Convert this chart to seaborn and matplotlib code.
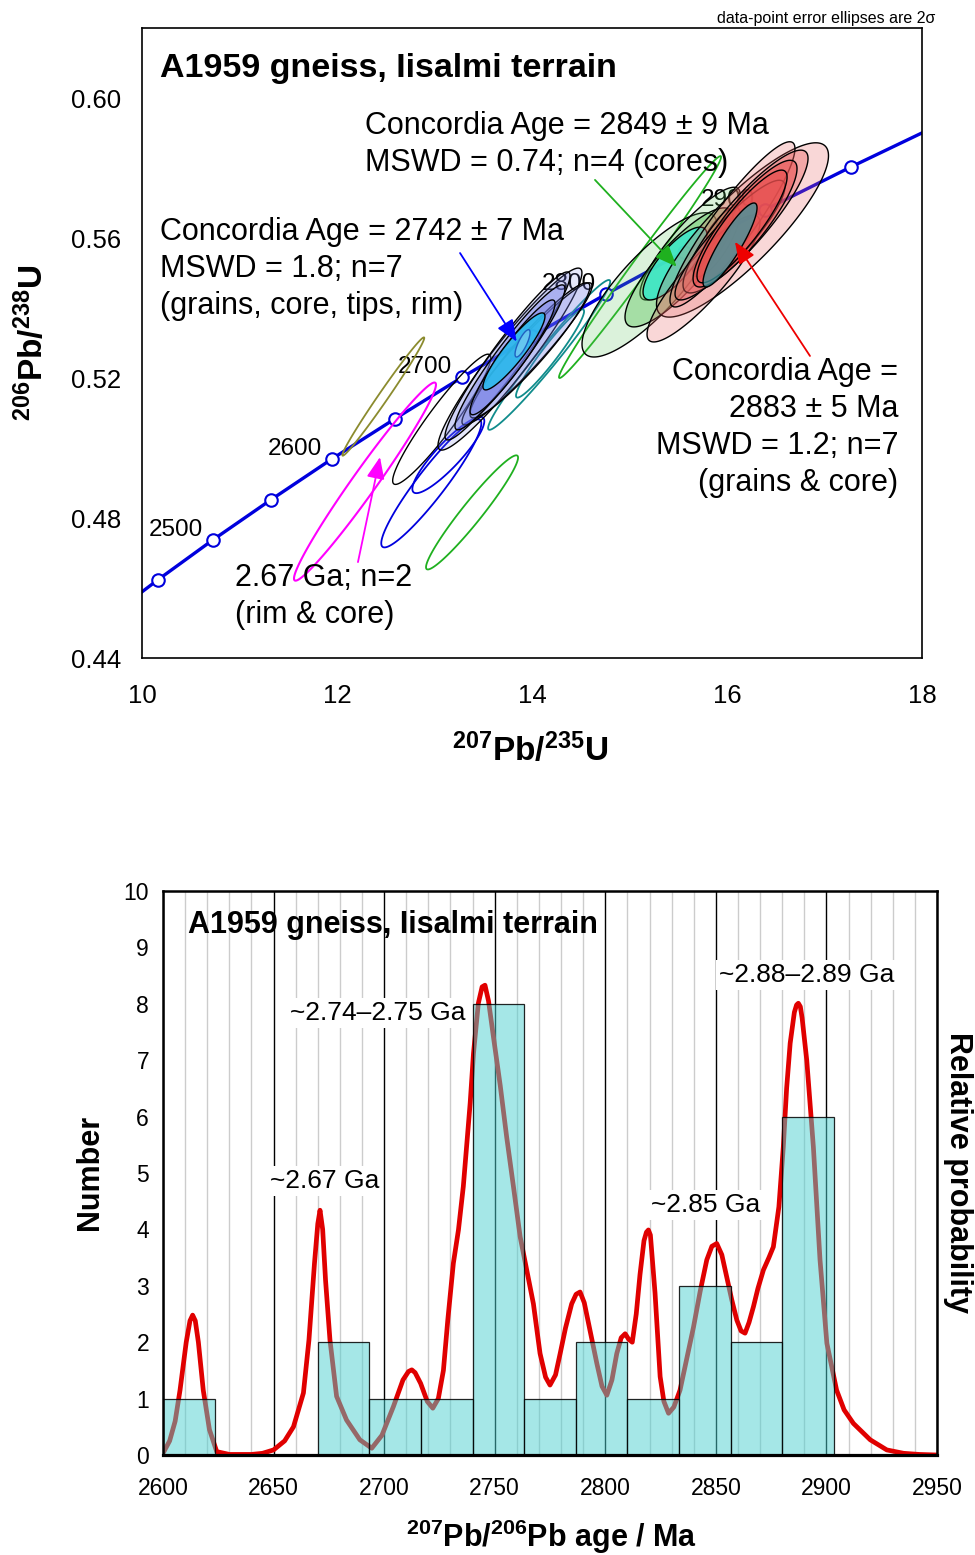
import numpy as np
import matplotlib
matplotlib.use('Agg')
import matplotlib.pyplot as plt
from matplotlib.ticker import FormatStrFormatter
import seaborn as sns
import pandas as pd

# ---------------- Concordia data ----------------
conc_age = [2400, 2450, 2500, 2550, 2600, 2650, 2700, 2750, 2800, 2850, 2900, 2950, 3000]
conc_x = [9.630, 10.166, 10.730, 11.322, 11.944, 12.597, 13.283, 14.004, 14.762, 15.557, 16.393, 17.271, 18.193]
conc_y = [0.4511, 0.4624, 0.4738, 0.4852, 0.4968, 0.5084, 0.5202, 0.5320, 0.5440, 0.5560, 0.5681, 0.5803, 0.5926]
conc_label_ages = [2500, 2600, 2700, 2800, 2900]

# data-point error ellipses (2 sigma): 207Pb/235U, 206Pb/238U, half-widths, rho, group
ell_x = [12.475, 12.287, 13.074, 12.967, 13.142, 13.385, 14.176, 14.185,
         13.774, 13.749, 13.949, 13.979, 13.774, 13.800, 13.815, 13.903,
         15.108, 15.205, 15.621, 15.508, 15.892, 15.467,
         16.159, 15.759, 16.056, 16.190, 16.031, 16.185, 16.154, 16.031]
ell_y = [0.5147, 0.4904, 0.5082, 0.4899, 0.4980, 0.4816, 0.5266, 0.5270,
         0.5254, 0.5263, 0.5269, 0.5279, 0.5259, 0.5259, 0.5276, 0.5299,
         0.5517, 0.5466, 0.5584, 0.5516, 0.5589, 0.5527,
         0.5623, 0.5484, 0.5639, 0.5647, 0.5594, 0.5641, 0.5633, 0.5580]
ell_sx = [0.420, 0.728, 0.503, 0.513, 0.369, 0.472, 0.626, 0.349,
          0.738, 0.641, 0.667, 0.615, 0.564, 0.436, 0.318, 0.077,
          0.831, 0.692, 0.513, 0.554, 0.241, 0.328,
          0.882, 0.579, 0.641, 0.641, 0.564, 0.533, 0.462, 0.277]
ell_sy = [0.0169, 0.0283, 0.0186, 0.0183, 0.0109, 0.0163, 0.0214, 0.0126,
          0.0260, 0.0240, 0.0203, 0.0193, 0.0207, 0.0164, 0.0110, 0.0039,
          0.0317, 0.0206, 0.0161, 0.0170, 0.0100, 0.0104,
          0.0249, 0.0181, 0.0236, 0.0204, 0.0171, 0.0181, 0.0161, 0.0120]
ell_rho = [0.990, 0.978, 0.943, 0.935, 0.889, 0.960, 0.977, 0.955,
           0.948, 0.954, 0.956, 0.942, 0.948, 0.936, 0.910, 0.790,
           0.992, 0.822, 0.877, 0.835, 0.788, 0.780,
           0.852, 0.880, 0.916, 0.884, 0.896, 0.868, 0.876, 0.885]
ell_group = ['olive', 'magenta', 'black', 'blue', 'blue', 'green', 'teal', 'teal',
             'blue_light', 'blue_light', 'blue_light', 'blue_light', 'blue_mid', 'blue_mid', 'cyan', 'cyan_light',
             'green', 'green_light', 'green_light', 'green_mid', 'green_mid', 'turquoise',
             'pink_light', 'pink_light', 'pink_light', 'pink_mid', 'pink_mid', 'red', 'red', 'teal_fill']

# ---------------- Histogram data ----------------
bin_edges = [2600, 2623.33, 2646.67, 2670, 2693.33, 2716.67, 2740, 2763.33,
             2786.67, 2810, 2833.33, 2856.67, 2880, 2903.33]
bin_counts = [1, 0, 0, 2, 1, 1, 8, 1, 2, 1, 3, 2, 6]

curve_age = [2600, 2603, 2605.5, 2607.7, 2610.5, 2612.2, 2613.4, 2614.6, 2616, 2618.2, 2621, 2624.3,
             2630, 2640, 2645, 2650, 2655, 2659, 2663.5, 2666, 2668.5, 2670, 2671, 2672.2, 2673.5,
             2675.5, 2678.5, 2683, 2689, 2694.4, 2699, 2704.2, 2708.5, 2711, 2712.5, 2714, 2716.5,
             2719.5, 2722, 2724.5, 2726.8, 2728.8, 2731.3, 2733.6, 2735.8, 2738.9, 2740.4, 2742.6,
             2744.3, 2745.6, 2747.2, 2749.4, 2752.5, 2755.4, 2758.5, 2761.5, 2764.5, 2767.5,
             2770.5, 2773, 2775, 2777.5, 2779.6, 2782, 2784.8, 2786.8, 2788.6, 2790.5, 2793.1,
             2796.2, 2798.5, 2800.7, 2803, 2805.2, 2807.2, 2809, 2810.6, 2812.2, 2814, 2815.7,
             2817.5, 2818.6, 2819.5, 2820.4, 2821, 2822.5, 2824.8, 2826.5, 2828.6, 2831, 2833.8,
             2836.8, 2839.9, 2842.9, 2845.9, 2848.2, 2850.4, 2852.7, 2854.9, 2857.2, 2859.5,
             2861.4, 2863.2, 2865, 2867, 2869, 2871.5, 2874, 2876, 2878.5, 2880.5, 2882, 2883.6,
             2885.5, 2886.5, 2887.3, 2888.2, 2889, 2891.1, 2894.1, 2897.1, 2900.2, 2904.6, 2908,
             2912.2, 2919.8, 2927.3, 2934.9, 2942, 2950]
curve_prob = [0.03, 0.25, 0.6, 1.15, 2.0, 2.38, 2.48, 2.38, 2.0, 1.15, 0.45, 0.06,
              0.01, 0.01, 0.03, 0.09, 0.25, 0.5, 1.1, 2.04, 3.4, 4.1, 4.34, 4.0, 3.1,
              2.04, 1.04, 0.62, 0.27, 0.12, 0.35, 0.86, 1.33, 1.48, 1.51, 1.46, 1.27,
              0.95, 0.83, 1.0, 1.5, 2.4, 3.4, 3.99, 4.76, 6.24, 7.12, 8.01,
              8.3, 8.33, 8.05, 7.42, 6.55, 5.64, 4.75, 3.87, 3.27, 2.68,
              1.80, 1.38, 1.24, 1.42, 1.80, 2.25, 2.68, 2.85, 2.89, 2.7, 2.21,
              1.62, 1.22, 1.06, 1.33, 1.80, 2.08, 2.15, 2.05, 2.0, 2.5, 3.2,
              3.8, 3.95, 3.99, 3.9, 3.6, 2.87, 1.39, 0.95, 0.74, 0.85, 1.15,
              1.7, 2.27, 2.9, 3.46, 3.7, 3.75, 3.55, 3.16, 2.75, 2.39,
              2.2, 2.16, 2.35, 2.63, 2.95, 3.28, 3.5, 3.69, 4.4, 5.46, 6.5, 7.30,
              7.85, 7.98, 8.01, 7.95, 7.75, 7.0, 5.46, 3.46, 1.98, 1.15, 0.8,
              0.56, 0.27, 0.09, 0.03, 0.01, 0.0]

peak_labels = ['~2.74\u20132.75 Ga', '~2.67 Ga', '~2.85 Ga', '~2.88\u20132.89 Ga']

# ---------------- Styling ----------------
sns.set_style('white')
plt.rcParams['font.family'] = ['Liberation Sans', 'DejaVu Sans']
plt.rcParams['mathtext.fontset'] = 'custom'
plt.rcParams['mathtext.rm'] = 'Liberation Sans'
plt.rcParams['mathtext.bf'] = 'Liberation Sans:bold'
plt.rcParams['mathtext.it'] = 'Liberation Sans:italic'
for k in ['text.color', 'axes.labelcolor', 'xtick.color', 'ytick.color', 'axes.edgecolor']:
    plt.rcParams[k] = 'black'

ell_styles = {
    'olive': dict(facecolor='none', edgecolor='#8b8b2e', lw=1.3),
    'magenta': dict(facecolor='none', edgecolor='#ff00ff', lw=1.5),
    'black': dict(facecolor='none', edgecolor='black', lw=1.0),
    'blue': dict(facecolor='none', edgecolor='#0000dd', lw=1.3),
    'green': dict(facecolor='none', edgecolor='#1fb01f', lw=1.3),
    'teal': dict(facecolor='none', edgecolor='#108c8c', lw=1.3),
    'blue_light': dict(facecolor=(0.45, 0.49, 0.90, 0.18), edgecolor='black', lw=1.0),
    'blue_mid': dict(facecolor=(0.45, 0.49, 0.90, 0.40), edgecolor='black', lw=1.0),
    'cyan': dict(facecolor=(0.15, 0.74, 0.93, 0.85), edgecolor='black', lw=1.0),
    'cyan_light': dict(facecolor=(0.45, 0.80, 0.95, 0.8), edgecolor='#2060c0', lw=1.0),
    'green_light': dict(facecolor=(0.36, 0.77, 0.36, 0.22), edgecolor='black', lw=1.0),
    'green_mid': dict(facecolor=(0.36, 0.77, 0.36, 0.42), edgecolor='black', lw=1.0),
    'turquoise': dict(facecolor=(0.25, 0.91, 0.78, 0.92), edgecolor='black', lw=1.0),
    'pink_light': dict(facecolor=(0.91, 0.38, 0.38, 0.25), edgecolor='black', lw=1.0),
    'pink_mid': dict(facecolor=(0.91, 0.38, 0.38, 0.40), edgecolor='black', lw=1.0),
    'red': dict(facecolor=(0.91, 0.30, 0.30, 0.55), edgecolor='black', lw=1.0),
    'teal_fill': dict(facecolor=(0.23, 0.60, 0.63, 0.75), edgecolor='black', lw=1.0),
}

fig = plt.figure(figsize=(9.75, 15.55), dpi=100)
ax1 = fig.add_axes([142/975, 1-658/1555, 780/975, 630/1555])
ax2 = fig.add_axes([163/975, 1-1455/1555, 774/975, 564/1555])

# ---------------- Concordia plot ----------------
conc_df = pd.DataFrame({'x': conc_x, 'y': conc_y, 'age': conc_age})
sns.lineplot(data=conc_df, x='x', y='y', sort=False, ax=ax1, color='#0000dd', lw=2.4,
             marker='o', markersize=9, markerfacecolor='white', markeredgecolor='#0000dd',
             markeredgewidth=1.5, zorder=2)

t = np.linspace(0, 2*np.pi, 240)
for cx, cy, sx, sy, r, g in zip(ell_x, ell_y, ell_sx, ell_sy, ell_rho, ell_group):
    xs = cx + sx*np.cos(t)
    ys = cy + sy*(r*np.cos(t) + np.sqrt(1-r*r)*np.sin(t))
    ax1.fill(xs, ys, zorder=3, **ell_styles[g])

for a in conc_label_ages:
    i = conc_age.index(a)
    ax1.annotate(str(a), (conc_x[i], conc_y[i]), xytext=(-10, 10), textcoords='offset pixels',
                 ha='right', va='center', fontsize=17.5, zorder=2.5)

ax1.set_xlim(10, 18)
ax1.set_ylim(0.44, 0.62)
ax1.set_xticks([10, 12, 14, 16, 18])
ax1.set_xticks([11, 13, 15, 17], minor=True)
ax1.set_yticks([0.44, 0.48, 0.52, 0.56, 0.60])
ax1.set_yticks([0.46, 0.50, 0.54, 0.58, 0.62], minor=True)
ax1.yaxis.set_major_formatter(FormatStrFormatter('%.2f'))
ax1.tick_params(which='both', direction='in', length=8, width=1.0, labelsize=18.5, top=False, right=False)
ax1.tick_params(axis='x', which='major', pad=19)
ax1.tick_params(axis='y', which='major', pad=15)
ax1.set_xlabel('')
ax1.set_ylabel('')
for s in ax1.spines.values():
    s.set_linewidth(1.2)
    s.set_color('black')

def afy(py):
    return (658 - py) / 630

def afx(px):
    return (px - 142) / 780

FS = 22
ax1.text(afx(160), afy(77), 'A1959 gneiss, Iisalmi terrain', transform=ax1.transAxes,
         fontsize=24.5, fontweight='bold', ha='left', va='baseline')
ax1.text(afx(365), afy(134), 'Concordia Age = 2849 \u00b1 9 Ma', transform=ax1.transAxes,
         fontsize=FS, ha='left', va='baseline', zorder=7)
ax1.text(afx(365), afy(171), 'MSWD = 0.74; n=4 (cores)', transform=ax1.transAxes,
         fontsize=FS, ha='left', va='baseline', zorder=7)
ax1.text(afx(160), afy(240), 'Concordia Age = 2742 \u00b1 7 Ma', transform=ax1.transAxes,
         fontsize=FS, ha='left', va='baseline', zorder=7)
ax1.text(afx(160), afy(277), 'MSWD = 1.8; n=7', transform=ax1.transAxes,
         fontsize=FS, ha='left', va='baseline', zorder=7)
ax1.text(afx(160), afy(314), '(grains, core, tips, rim)', transform=ax1.transAxes,
         fontsize=FS, ha='left', va='baseline', zorder=7)
for line, py in zip(['Concordia Age =', '2883 \u00b1 5 Ma', 'MSWD = 1.2; n=7', '(grains & core)'],
                    [380, 417, 454, 491]):
    ax1.text(afx(898), afy(py), line, transform=ax1.transAxes, fontsize=FS,
             ha='right', va='baseline', zorder=7)
ax1.text(afx(235), afy(586), '2.67 Ga; n=2', transform=ax1.transAxes,
         fontsize=FS, ha='left', va='baseline', zorder=7)
ax1.text(afx(235), afy(623), '(rim & core)', transform=ax1.transAxes,
         fontsize=FS, ha='left', va='baseline', zorder=7)

arrows = [((13.262, 0.5557), (13.843, 0.5304), '#0000ff'),
          ((14.646, 0.5766), (15.484, 0.5518), '#1fb01f'),
          ((16.851, 0.5263), (16.082, 0.5589), '#ee0000'),
          ((12.215, 0.4674), (12.441, 0.4974), '#ff00ff')]
for (x0, y0), (x1, y1), c in arrows:
    ax1.annotate('', xy=(x1, y1), xytext=(x0, y0),
                 arrowprops=dict(arrowstyle='-|>,head_length=0.6,head_width=0.25', color=c, lw=1.3,
                                 mutation_scale=22, shrinkA=0, shrinkB=0), zorder=8)

fig.text(935/975, 1-18/1555, 'data-point error ellipses are 2\u03c3', ha='right', va='center',
         fontsize=11.5)
fig.text(530/975, 1-750/1555, r'$^{\mathbf{207}}\mathbf{Pb/}^{\mathbf{235}}\mathbf{U}$',
         ha='center', va='center', fontsize=24)
fig.text(32/975, 1-343/1555, r'$^{\mathbf{206}}\mathbf{Pb/}^{\mathbf{238}}\mathbf{U}$',
         ha='center', va='center', fontsize=24, rotation=90)

# ---------------- Histogram + probability curve ----------------
bin_centers = [(a + b) / 2 for a, b in zip(bin_edges[:-1], bin_edges[1:])]
sns.histplot(x=bin_centers, weights=bin_counts, bins=bin_edges, ax=ax2, zorder=2)
for p in ax2.patches:
    p.set_alpha(None)
    p.set_facecolor((0.30, 0.82, 0.82, 0.5))
    p.set_edgecolor((0, 0, 0, 0.85))
    p.set_linewidth(0.9)

sns.lineplot(x=curve_age, y=curve_prob, sort=False, ax=ax2, color='#e00000', lw=3.4, zorder=1.5)

ax2.set_xlim(2600, 2950)
ax2.set_ylim(0, 10)
ax2.set_xticks(list(range(2600, 2951, 50)))
ax2.set_xticks(list(range(2600, 2951, 10)), minor=True)
ax2.set_yticks(list(range(0, 11)))
ax2.set_axisbelow(True)
ax2.grid(which='major', axis='x', color='black', lw=1.0)
ax2.grid(which='minor', axis='x', color='#cccccc', lw=1.0)
ax2.grid(which='major', axis='y', visible=False)
ax2.tick_params(which='both', direction='in', labelsize=16.5, top=False, right=False)
ax2.tick_params(which='major', length=8, width=1.2)
ax2.tick_params(which='minor', length=5, width=1.0)
ax2.tick_params(axis='x', which='major', pad=16)
ax2.tick_params(axis='y', which='major', pad=10)
ax2.set_xlabel('')
ax2.set_ylabel('')
for k, s in ax2.spines.items():
    s.set_color('black')
    s.set_linewidth(1.8)
ax2.spines['bottom'].set_linewidth(2.3)

def hfx(px):
    return (px - 163) / 774

def hfy(py):
    return (1455 - py) / 564

ax2.text(hfx(188), hfy(933), 'A1959 gneiss, Iisalmi terrain', transform=ax2.transAxes,
         fontsize=22, fontweight='bold', ha='left', va='baseline', zorder=5)
bbox = dict(facecolor='white', edgecolor='none', pad=2)
for lab, (px, py) in zip(peak_labels, [(378, 1013), (325, 1181), (706, 1205), (807, 975)]):
    ax2.text(hfx(px), hfy(py), lab, transform=ax2.transAxes, fontsize=19, ha='center',
             va='center', bbox=bbox, zorder=5)

fig.text(90/975, 1-1172/1555, 'Number', rotation=90, ha='center', va='center',
         fontsize=22, fontweight='bold')
fig.text(958/975, 1-1172/1555, 'Relative probability', rotation=270, ha='center', va='center',
         fontsize=22, fontweight='bold')
fig.text(551/975, 1-1537/1555,
         r'$^{\mathbf{207}}\mathbf{Pb/}^{\mathbf{206}}\mathbf{Pb\ age\ /\ Ma}$',
         ha='center', va='center', fontsize=22)

fig.savefig('out.png', dpi=100)
